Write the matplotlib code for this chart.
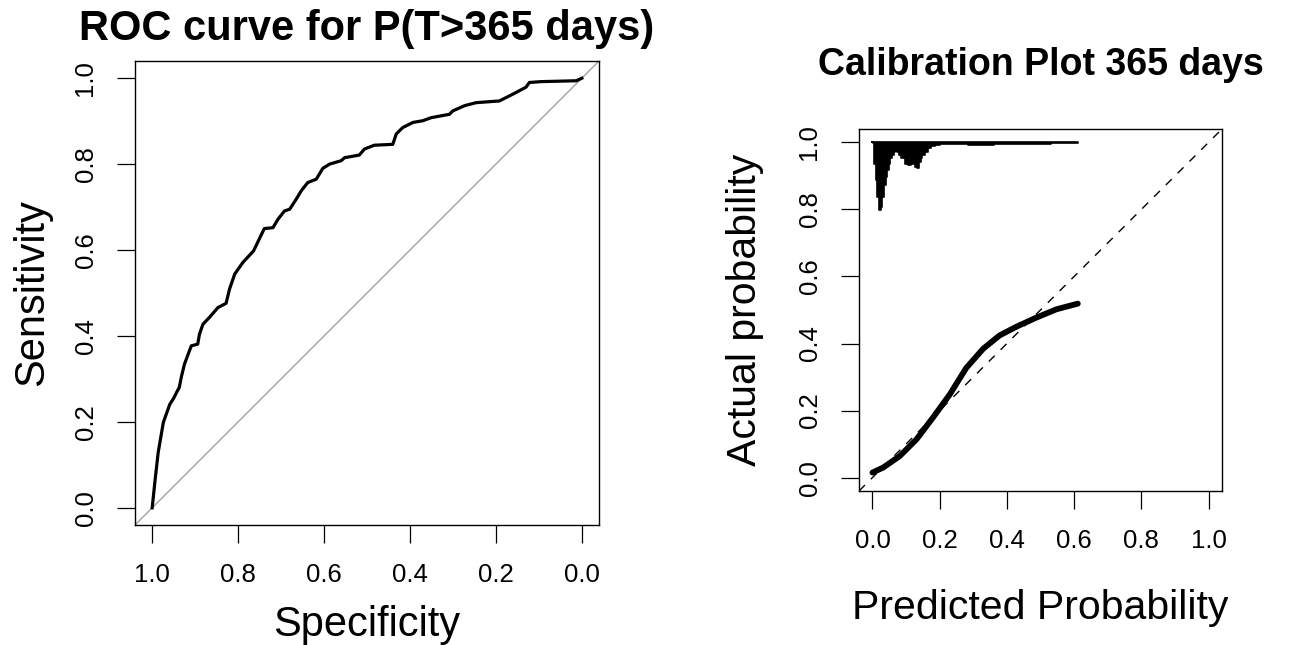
import matplotlib
matplotlib.use("Agg")
import matplotlib.pyplot as plt
import numpy as np

plt.rcParams['font.family'] = ['Liberation Sans', 'DejaVu Sans']

# ---------------- data ----------------
# ROC curve (specificity, sensitivity)
roc_specificity = [1.000, 0.993, 0.986, 0.974, 0.959, 0.950, 0.943, 0.937, 0.932, 0.925,
                   0.909, 0.894, 0.890, 0.882, 0.867, 0.847, 0.828, 0.820, 0.808, 0.789,
                   0.764, 0.754, 0.739, 0.719, 0.707, 0.692, 0.680, 0.665, 0.653, 0.638,
                   0.618, 0.603, 0.587, 0.560, 0.552, 0.518, 0.506, 0.483, 0.440, 0.432,
                   0.417, 0.393, 0.370, 0.351, 0.308, 0.300, 0.273, 0.246, 0.192, 0.168,
                   0.145, 0.130, 0.122, 0.095, 0.013, 0.000]
roc_sensitivity = [0.000, 0.067, 0.129, 0.199, 0.241, 0.255, 0.269, 0.280, 0.305, 0.334,
                   0.377, 0.381, 0.404, 0.427, 0.443, 0.466, 0.476, 0.509, 0.544, 0.571,
                   0.598, 0.619, 0.650, 0.652, 0.672, 0.691, 0.695, 0.718, 0.738, 0.757,
                   0.765, 0.790, 0.800, 0.808, 0.815, 0.821, 0.835, 0.844, 0.846, 0.870,
                   0.885, 0.897, 0.901, 0.908, 0.916, 0.924, 0.936, 0.943, 0.947, 0.959,
                   0.971, 0.979, 0.990, 0.992, 0.994, 1.000]

# Calibration curve (predicted, actual)
cal_predicted = [0.000, 0.032, 0.081, 0.131, 0.180, 0.230, 0.279, 0.329, 0.378,
                 0.428, 0.487, 0.547, 0.611]
cal_actual = [0.015, 0.030, 0.064, 0.114, 0.179, 0.248, 0.327, 0.384, 0.424,
              0.450, 0.477, 0.502, 0.519]

# Distribution of predicted probabilities (depth hanging from 1.0)
hist_x = [0.000, 0.002, 0.007, 0.012, 0.017, 0.022, 0.027, 0.032, 0.037, 0.042,
          0.046, 0.051, 0.056, 0.061, 0.066, 0.071, 0.076, 0.081, 0.091, 0.101,
          0.111, 0.121, 0.131, 0.136, 0.141, 0.146, 0.151, 0.160, 0.170, 0.180,
          0.190, 0.210, 0.240, 0.259, 0.309, 0.319, 0.358, 0.368, 0.408, 0.457,
          0.507, 0.556, 0.611]
hist_depth = [0.000, 0.003, 0.063, 0.112, 0.162, 0.202, 0.192, 0.162, 0.127, 0.102,
              0.082, 0.063, 0.048, 0.038, 0.028, 0.025, 0.028, 0.038, 0.048, 0.063,
              0.068, 0.063, 0.073, 0.075, 0.058, 0.048, 0.038, 0.028, 0.018, 0.011,
              0.008, 0.005, 0.005, 0.006, 0.008, 0.009, 0.008, 0.006, 0.005, 0.004,
              0.004, 0.003, 0.003]

ticks = [0.0, 0.2, 0.4, 0.6, 0.8, 1.0]
tick_labels = ["0.0", "0.2", "0.4", "0.6", "0.8", "1.0"]

# ---------------- figure ----------------
fig = plt.figure(figsize=(13.08, 6.45), dpi=100)
W, H = 1308, 645

def style_axes(ax, tick_fs):
    for s in ax.spines.values():
        s.set_linewidth(1.0)
        s.set_color('black')
    ax.set_xticks(ticks)
    ax.set_xticklabels(tick_labels)
    ax.set_yticks(ticks)
    ax.set_yticklabels(tick_labels)
    ax.tick_params(axis='both', direction='out', length=13, width=0.9,
                   pad=14, labelsize=tick_fs, colors='black')
    for lab in ax.get_yticklabels():
        lab.set_rotation(90)
        lab.set_va('center')

# ROC panel
ax1 = fig.add_axes([135 / W, (H - 525) / H, 464 / W, 464 / H])
ax1.set_xlim(1.04, -0.04)
ax1.set_ylim(-0.04, 1.04)
ax1.axline((1, 0), (0, 1), color='#A0A0A0', lw=1.0)
ax1.plot(roc_specificity, roc_sensitivity, color='black', lw=2.3,
         solid_joinstyle='round')
style_axes(ax1, 18.5)
ax1.set_title("ROC curve for P(T>365 days)", fontsize=30, fontweight='bold', pad=15)
ax1.set_xlabel("Specificity", fontsize=30)
ax1.set_ylabel("Sensitivity", fontsize=30)
ax1.xaxis.set_label_coords(0.5, (525 - 605) / 464)
ax1.yaxis.set_label_coords((52 - 135) / 464, 0.5)

# Calibration panel
ax2 = fig.add_axes([859 / W, (H - 491) / H, 363 / W, 362 / H])
ax2.set_xlim(-0.04, 1.04)
ax2.set_ylim(-0.04, 1.04)
ax2.axline((0, 0), (1, 1), color='black', lw=1.0, dashes=(6, 6))
hx = np.array(hist_x)
hd = np.array(hist_depth)
ax2.fill_between(hx, 1.0, 1.0 - hd, color='black', lw=1.2, edgecolor='black',
                 step='mid')
ax2.plot(cal_predicted, cal_actual, color='black', lw=4.2, solid_capstyle='round')
style_axes(ax2, 18.5)
ax2.set_title("Calibration Plot 365 days", fontsize=27, fontweight='bold', pad=39)
ax2.set_xlabel("Predicted Probability", fontsize=29.5)
ax2.set_ylabel("Actual probability", fontsize=29.5)
ax2.xaxis.set_label_coords(0.5, (491 - 589) / 362)
ax2.yaxis.set_label_coords((764 - 859) / 363, 0.5)

fig.savefig("out.png", dpi=100)
